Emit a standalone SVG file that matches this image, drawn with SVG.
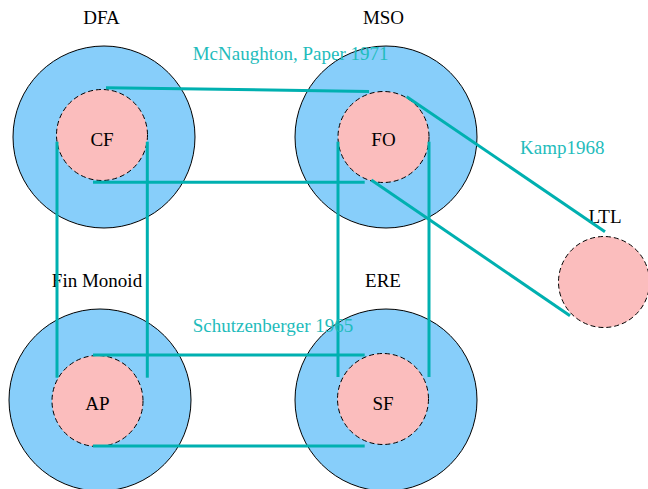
<svg xmlns="http://www.w3.org/2000/svg" width="648" height="489" viewBox="0 0 648 489">
<style>
.outer{fill:#87cefa;stroke:#000;stroke-width:1}
.inner{fill:#fbbdbd;stroke:#000;stroke-width:1;stroke-dasharray:5 3}
.lbl{font-family:"Liberation Serif",serif;font-size:19px;fill:#000;text-anchor:middle}
.elbl{font-family:"Liberation Serif",serif;font-size:19px;fill:#1fbcbc}
.edge{stroke:#00b0b0;stroke-width:3;fill:none}
</style>
<rect width="648" height="489" fill="#fff"/>
<g id="DFA">
<circle class="outer" cx="104" cy="137" r="91"/>
<text class="lbl" x="101.5" y="24">DFA</text>
</g>
<g id="CF">
<circle class="inner" cx="102" cy="135" r="45.5"/>
<text class="lbl" x="102" y="146">CF</text>
</g>
<g id="MSO">
<circle class="outer" cx="386" cy="137" r="91"/>
<text class="lbl" x="383.5" y="24">MSO</text>
</g>
<g id="FO">
<circle class="inner" cx="383.5" cy="137" r="45.5"/>
<text class="lbl" x="383.5" y="146">FO</text>
</g>
<g id="FinMonoid">
<circle class="outer" cx="100" cy="400" r="91"/>
<text class="lbl" x="97" y="287">Fin Monoid</text>
</g>
<g id="AP">
<circle class="inner" cx="97.5" cy="401" r="45.5"/>
<text class="lbl" x="97.5" y="410">AP</text>
</g>
<g id="ERE">
<circle class="outer" cx="386" cy="400" r="91"/>
<text class="lbl" x="383" y="287">ERE</text>
</g>
<g id="SF">
<circle class="inner" cx="383" cy="399" r="45.5"/>
<text class="lbl" x="383" y="410">SF</text>
</g>
<g id="LTL">
<circle class="inner" cx="604" cy="282" r="45.5"/>
<text class="lbl" x="605" y="223">LTL</text>
</g>
<g id="connectors">
<line class="edge" x1="106" y1="87.7" x2="369" y2="91.5"/>
<line class="edge" x1="93" y1="182.3" x2="364.7" y2="182.3"/>
<line class="edge" x1="57" y1="141.7" x2="57" y2="377.7"/>
<line class="edge" x1="147.3" y1="141.7" x2="147.3" y2="377.7"/>
<line class="edge" x1="93" y1="355" x2="364.7" y2="355"/>
<line class="edge" x1="93" y1="446" x2="364.7" y2="446"/>
<line class="edge" x1="338" y1="141.7" x2="338" y2="377"/>
<line class="edge" x1="429" y1="141.7" x2="429" y2="377"/>
<line class="edge" x1="406.7" y1="96.7" x2="605" y2="231.7"/>
<line class="edge" x1="371.3" y1="180" x2="570" y2="315.7"/>
<text class="elbl" x="192.7" y="60">McNaughton, Paper 1971</text>
<text class="elbl" x="520" y="154.3">Kamp1968</text>
<text class="elbl" x="192.7" y="332.3">Schutzenberger 1965</text>
</g>
</svg>
